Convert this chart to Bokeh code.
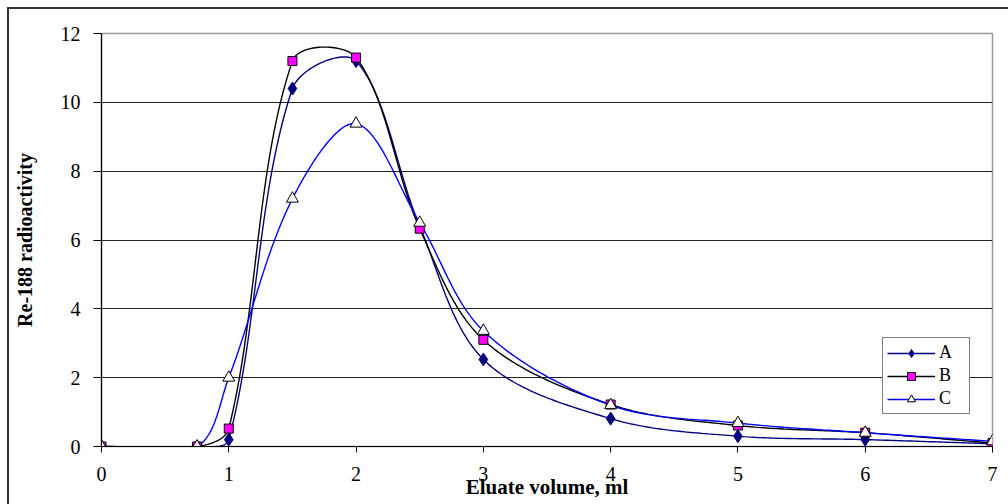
import numpy as np
from bokeh.plotting import figure
from bokeh.models import Range1d, Legend, LegendItem, FixedTicker
from bokeh.embed import file_html
from bokeh.resources import INLINE

volume = [0, 0.75, 1, 1.5, 2, 2.5, 3, 4, 5, 6, 7]
series_a = [0, 0, 0.2, 10.4, 11.2, 6.4, 2.53, 0.81, 0.3, 0.2, 0.08]
series_b = [0, 0, 0.52, 11.2, 11.3, 6.33, 3.1, 1.22, 0.61, 0.4, 0.1]
series_c = [0, 0, 2.0, 7.2, 9.38, 6.5, 3.36, 1.2, 0.68, 0.4, 0.15]
x_ticks = [0, 1, 2, 3, 4, 5, 6, 7]
y_ticks = [0, 2, 4, 6, 8, 10, 12]

SX, SY = 127.3, 34.4  # pixel per data unit, used for Excel-like smoothing


def smooth(xs, ys, n=40):
    P = np.column_stack([np.asarray(xs, float) * SX, np.asarray(ys, float) * SY])
    out = [P[0]]
    m = len(P)
    for i in range(m - 1):
        p0 = P[i - 1] if i > 0 else P[i]
        p1, p2 = P[i], P[i + 1]
        p3 = P[i + 2] if i + 2 < m else P[i + 1]
        d01 = np.linalg.norm(p1 - p0)
        d12 = np.linalg.norm(p2 - p1)
        d23 = np.linalg.norm(p3 - p2)
        f1 = d12 / (d01 + d12) / 3 if d01 + d12 > 0 else 0
        f2 = d12 / (d12 + d23) / 3 if d12 + d23 > 0 else 0
        c1 = p1 + (p2 - p0) * f1
        c2 = p2 - (p3 - p1) * f2
        t = np.linspace(0, 1, n)[1:, None]
        pts = ((1 - t) ** 3) * p1 + 3 * ((1 - t) ** 2) * t * c1 + 3 * (1 - t) * t ** 2 * c2 + t ** 3 * p2
        out.extend(pts)
    out = np.array(out)
    return out[:, 0] / SX, out[:, 1] / SY


FONT = "Liberation Serif"

p = figure(width=1008, height=504, output_backend="svg", toolbar_location=None,
           x_range=Range1d(0, 7), y_range=Range1d(0, 12),
           min_border_left=101, min_border_right=16, min_border_top=33, min_border_bottom=58)
p.border_fill_alpha = 0
p.background_fill_color = "white"
p.styles = {"box-shadow": "inset 7px 7px 0 0 white, inset 9px 9px 0 0 #333333"}
p.outline_line_color = "#999999"
p.outline_line_width = 1.5

p.xgrid.visible = False
p.ygrid.ticker = FixedTicker(ticks=[2, 4, 6, 8, 10])
p.ygrid.grid_line_color = "#222222"
p.ygrid.grid_line_width = 1

for ax in (p.xaxis[0], p.yaxis[0]):
    ax.axis_line_color = "black"
    ax.axis_line_width = 1.2
    ax.major_tick_line_color = "black"
    ax.major_tick_in = 0
    ax.minor_tick_line_color = None
    ax.major_label_text_font = FONT
    ax.major_label_text_font_size = "20px"
    ax.major_label_text_color = "black"
    ax.axis_label_text_font = FONT
    ax.axis_label_text_font_style = "bold"
    ax.axis_label_text_color = "black"
p.xaxis[0].ticker = FixedTicker(ticks=x_ticks)
p.yaxis[0].ticker = FixedTicker(ticks=y_ticks)
p.xaxis[0].major_tick_out = 6
p.yaxis[0].major_tick_out = 8
p.xaxis[0].major_label_standoff = 14
p.yaxis[0].major_label_standoff = 13
p.xaxis[0].axis_label = "Eluate volume, ml"
p.xaxis[0].axis_label_text_font_size = "21px"
p.xaxis[0].axis_label_standoff = -9
p.yaxis[0].axis_label = "Re-188 radioactivity"
p.yaxis[0].axis_label_text_font_size = "20px"
p.yaxis[0].axis_label_standoff = 22

ax_, ay_ = smooth(volume, series_a)
bx_, by_ = smooth(volume, series_b)
cx_, cy_ = smooth(volume, series_c)

la = p.line(ax_, ay_, line_color="#000080", line_width=1.4)
lb = p.line(bx_, by_, line_color="black", line_width=1.4)
lc = p.line(cx_, cy_, line_color="#0000FF", line_width=1.4)
ma = p.scatter(volume, series_a, marker="diamond", size=13, fill_color="#000080", line_color="#000080")
mb = p.scatter(volume, series_b, marker="square", size=9, fill_color="#FF00FF", line_color="black", line_width=1)
mc = p.scatter(volume, series_c, marker="triangle", size=12, fill_color="white", line_color="black", line_width=1)

legend = Legend(items=[LegendItem(label="A", renderers=[la, ma]),
                       LegendItem(label="B", renderers=[lb, mb]),
                       LegendItem(label="C", renderers=[lc, mc])],
                location=(781, 32))
legend.label_text_font = FONT
legend.label_text_font_size = "18px"
legend.label_text_color = "black"
legend.border_line_color = "black"
legend.border_line_width = 1
legend.background_fill_color = "white"
legend.background_fill_alpha = 1
legend.glyph_width = 48
legend.glyph_height = 20
legend.label_height = 20
legend.label_width = 26
legend.label_standoff = 4
legend.spacing = 2
legend.padding = 4
legend.margin = 0
p.add_layout(legend, "center")

open("out.html", "w").write(file_html(p, INLINE))
